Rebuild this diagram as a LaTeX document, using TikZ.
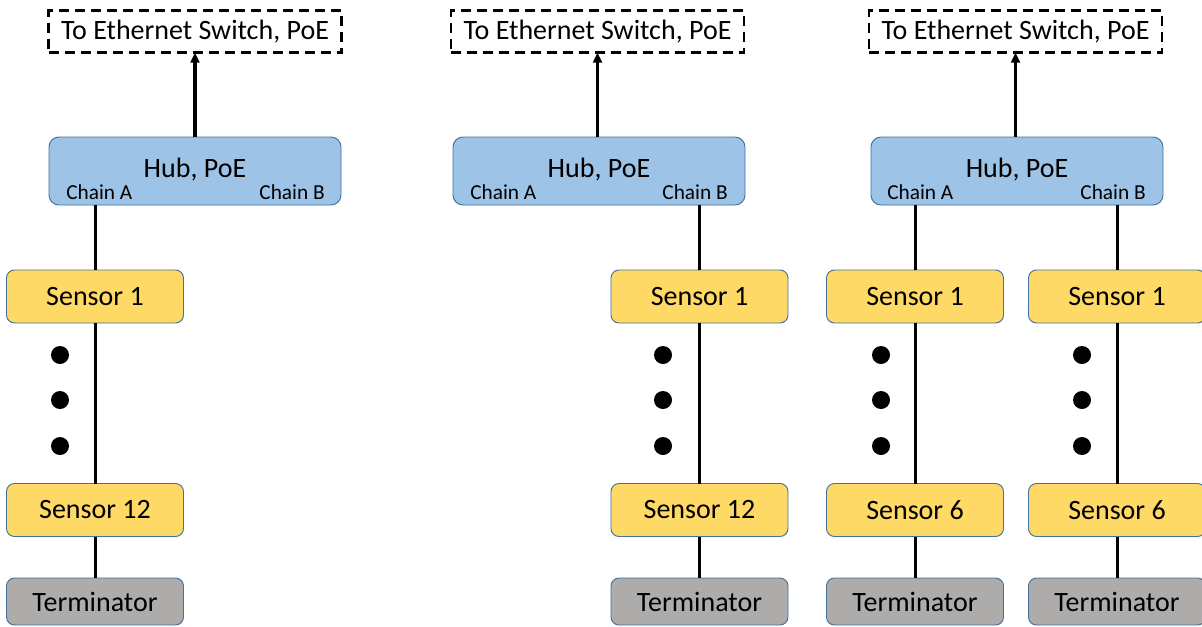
\documentclass[tikz,border=0pt]{standalone}
\usepackage{fontspec}
\setmainfont{Carlito}
\usetikzlibrary{arrows.meta}
\definecolor{hubfill}{HTML}{9DC3E6}
\definecolor{boxline}{HTML}{41719C}
\definecolor{sensfill}{HTML}{FFD966}
\definecolor{termfill}{HTML}{AEABAB}
\tikzset{
  mainfont/.style={font=\fontsize{21}{25}\selectfont},
  switchbox/.style={draw=black, line width=1.6pt, dash pattern=on 7.5pt off 4.5pt,
    minimum width=219.75pt, minimum height=31.5pt, inner sep=0pt, outer sep=0pt, mainfont},
  hubbox/.style={draw=boxline, fill=hubfill, line width=0.7pt, rounded corners=7.5pt,
    minimum width=219pt, minimum height=51pt, inner sep=0pt, outer sep=0pt},
  hubtext/.style={inner sep=0pt, mainfont},
  sensbox/.style={draw=boxline, fill=sensfill, line width=0.7pt, rounded corners=6pt,
    minimum width=132.75pt, minimum height=39.75pt, inner sep=0pt, outer sep=0pt, mainfont},
  termbox/.style={draw=boxline, fill=termfill, line width=0.7pt, rounded corners=6pt,
    minimum width=132.75pt, minimum height=35.25pt, inner sep=0pt, outer sep=0pt, mainfont},
  chainlbl/.style={inner sep=0pt, font=\fontsize{16}{19}\selectfont},
  dotmark/.style={circle, fill=black, minimum size=13.5pt, inner sep=0pt},
  wire/.style={line width=2.25pt},
  uplink/.style={line width=2.3pt, -{Triangle[length=7.5pt,width=6.5pt]}},
}
\begin{document}
\begin{tikzpicture}[x=0.75pt, y=-0.75pt]
\useasboundingbox (0,0) rectangle (1202,626);

% ---------- Column 1 ----------
\node[switchbox] (sw1) at (195,31.5) {To Ethernet Switch, PoE};
\node[hubbox] (hub1) at (195,171) {};
\node[hubtext] (hubt1) at (195,170) {Hub, PoE};
\node[chainlbl, anchor=base west] (ca1) at (66,199) {Chain A};
\node[chainlbl, anchor=base east] (cb1) at (325,199) {Chain B};
\node[sensbox] (s1a) at (95,296.5) {Sensor 1};
\node[dotmark] (d1a) at (60,355) {};
\node[dotmark] (d1b) at (60,400) {};
\node[dotmark] (d1c) at (60,446) {};
\node[sensbox] (s1z) at (95,510) {Sensor 12};
\node[termbox] (t1) at (95,601.5) {Terminator};
\draw[uplink] (hub1.north) -- (sw1.south);
\draw[wire] (s1a.north |- hub1.south) -- (s1a.north);
\draw[wire] (s1a.south) -- (s1z.north);
\draw[wire] (s1z.south) -- (t1.north);

% ---------- Column 2 ----------
\node[switchbox] (sw2) at (597.5,31.5) {To Ethernet Switch, PoE};
\node[hubbox] (hub2) at (599,171) {};
\node[hubtext] (hubt2) at (599,170) {Hub, PoE};
\node[chainlbl, anchor=base west] (ca2) at (470,199) {Chain A};
\node[chainlbl, anchor=base east] (cb2) at (728,199) {Chain B};
\node[sensbox] (s2a) at (699.5,296.5) {Sensor 1};
\node[dotmark] (d2a) at (663,355) {};
\node[dotmark] (d2b) at (663,400) {};
\node[dotmark] (d2c) at (663,446) {};
\node[sensbox] (s2z) at (699.5,510) {Sensor 12};
\node[termbox] (t2) at (699.5,601.5) {Terminator};
\draw[uplink] (sw2.south |- hub2.north) -- (sw2.south);
\draw[wire] (s2a.north |- hub2.south) -- (s2a.north);
\draw[wire] (s2a.south) -- (s2z.north);
\draw[wire] (s2z.south) -- (t2.north);

% ---------- Column 3 ----------
\node[switchbox] (sw3) at (1015.5,31.5) {To Ethernet Switch, PoE};
\node[hubbox] (hub3) at (1017,171) {};
\node[hubtext] (hubt3) at (1017,170) {Hub, PoE};
\node[chainlbl, anchor=base west] (ca3) at (887,199) {Chain A};
\node[chainlbl, anchor=base east] (cb3) at (1146,199) {Chain B};
% chain A
\node[sensbox] (s3a) at (915,296.5) {Sensor 1};
\node[dotmark] (d3a) at (881,355) {};
\node[dotmark] (d3b) at (881,400) {};
\node[dotmark] (d3c) at (881,446) {};
\node[sensbox] (s3z) at (915,510) {Sensor 6};
\node[termbox] (t3) at (915,601.5) {Terminator};
% chain B
\node[sensbox] (s4a) at (1117,296.5) {Sensor 1};
\node[dotmark] (d4a) at (1082,355) {};
\node[dotmark] (d4b) at (1082,400) {};
\node[dotmark] (d4c) at (1082,446) {};
\node[sensbox] (s4z) at (1117,510) {Sensor 6};
\node[termbox] (t4) at (1117,601.5) {Terminator};
\draw[uplink] (sw3.south |- hub3.north) -- (sw3.south);
\draw[wire] (s3a.north |- hub3.south) -- (s3a.north);
\draw[wire] (s3a.south) -- (s3z.north);
\draw[wire] (s3z.south) -- (t3.north);
\draw[wire] (s4a.north |- hub3.south) -- (s4a.north);
\draw[wire] (s4a.south) -- (s4z.north);
\draw[wire] (s4z.south) -- (t4.north);
\end{tikzpicture}
\end{document}
